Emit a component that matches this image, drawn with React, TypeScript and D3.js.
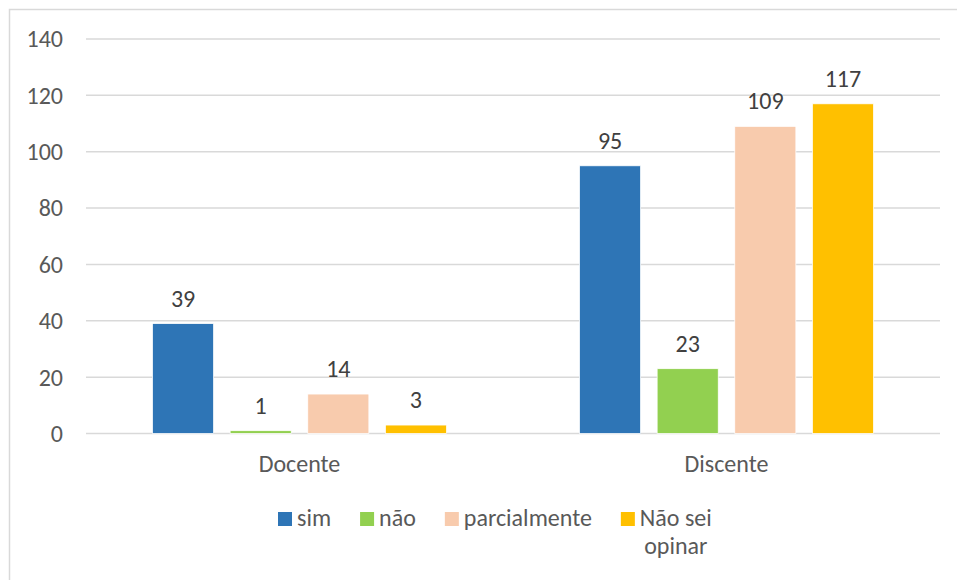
import React, { useEffect, useRef } from 'react';
import * as d3 from 'd3';

const categories = ['Docente', 'Discente'];
const seriesNames = ['sim', 'não', 'parcialmente', 'Não sei opinar'];
const seriesColors = ['#2E75B6', '#92D050', '#F8CBAD', '#FFC000'];
const simValues = [39, 95];
const naoValues = [1, 23];
const parcialValues = [14, 109];
const naoSeiValues = [3, 117];
const yTicks = [0, 20, 40, 60, 80, 100, 120, 140];

const FONT = 'Calibri, Carlito, Lato, sans-serif';
const FS = 24;

export default function App() {
  const ref = useRef<SVGSVGElement | null>(null);

  useEffect(() => {
    if (!ref.current) return;
    const svg = d3.select(ref.current);
    svg.selectAll('*').remove();

    const width = 957;
    const height = 580;
    const margin = { top: 39, right: 17, bottom: 146.5, left: 86 };
    const values = [simValues, naoValues, parcialValues, naoSeiValues];

    // chart area frame (only left/top visible in the crop)
    svg.append('rect')
      .attr('x', 9.5)
      .attr('y', 9.5)
      .attr('width', width + 20)
      .attr('height', height + 20)
      .attr('fill', '#fff')
      .attr('stroke', '#D9D9D9')
      .attr('stroke-width', 1.5);

    const x0 = d3.scaleBand()
      .domain(categories)
      .range([margin.left, width - margin.right])
      .paddingInner(0)
      .paddingOuter(0);

    const x1 = d3.scaleBand()
      .domain(seriesNames)
      .range([66.5, x0.bandwidth() - 66.5])
      .paddingInner(0.213)
      .paddingOuter(0);

    const y = d3.scaleLinear()
      .domain([0, 140])
      .range([height - margin.bottom, margin.top]);

    // gridlines
    svg.append('g')
      .selectAll('line')
      .data(yTicks)
      .join('line')
      .attr('x1', margin.left)
      .attr('x2', width - margin.right)
      .attr('y1', (d) => y(d))
      .attr('y2', (d) => y(d))
      .attr('stroke', '#D9D9D9')
      .attr('stroke-width', 1.5);

    // y tick labels
    svg.append('g')
      .selectAll('text')
      .data(yTicks)
      .join('text')
      .attr('x', 63)
      .attr('y', (d) => y(d))
      .attr('dy', '0.35em')
      .attr('text-anchor', 'end')
      .attr('font-family', FONT)
      .attr('font-size', FS)
      .attr('fill', '#595959')
      .text((d) => d);

    // bars
    const groups = svg.append('g')
      .selectAll('g')
      .data(categories)
      .join('g')
      .attr('transform', (d) => `translate(${x0(d)},0)`);

    groups.each(function (cat, ci) {
      const g = d3.select(this);
      const rows = seriesNames.map((s, si) => ({ s, si, v: values[si][ci] }));
      g.selectAll('rect')
        .data(rows)
        .join('rect')
        .attr('x', (d) => x1(d.s))
        .attr('y', (d) => y(d.v))
        .attr('width', x1.bandwidth())
        .attr('height', (d) => y(0) - y(d.v))
        .attr('fill', (d) => seriesColors[d.si])
        .attr('stroke', '#fff')
        .attr('stroke-width', 0.75);
      g.selectAll('text')
        .data(rows)
        .join('text')
        .attr('x', (d) => x1(d.s) + x1.bandwidth() / 2)
        .attr('y', (d) => y(d.v) - 17)
        .attr('text-anchor', 'middle')
        .attr('font-family', FONT)
        .attr('font-size', FS)
        .attr('fill', '#404040')
        .text((d) => d.v);
    });

    // category labels
    svg.append('g')
      .selectAll('text')
      .data(categories)
      .join('text')
      .attr('x', (d) => x0(d) + x0.bandwidth() / 2)
      .attr('y', 472)
      .attr('text-anchor', 'middle')
      .attr('font-family', FONT)
      .attr('font-size', FS)
      .attr('fill', '#595959')
      .text((d) => d);

    // legend
    const legend = svg.append('g');
    let lx = 278;
    const ly = 525.5;
    seriesNames.forEach((name, i) => {
      legend.append('rect')
        .attr('x', lx)
        .attr('y', 512)
        .attr('width', 14)
        .attr('height', 14)
        .attr('fill', seriesColors[i]);
      const t = legend.append('text')
        .attr('font-family', FONT)
        .attr('font-size', FS)
        .attr('fill', '#595959');
      if (name === 'Não sei opinar') {
        const first = t.append('tspan').attr('x', lx + 19).attr('y', ly).text('Não sei');
        const w = (first.node() as SVGTSpanElement).getComputedTextLength();
        const cx = lx + 19 + w / 2;
        first.attr('x', cx).attr('text-anchor', 'middle');
        t.append('tspan').attr('x', cx).attr('y', ly + 28.5)
          .attr('text-anchor', 'middle').text('opinar');
        lx += 19 + w + 29;
      } else {
        t.attr('x', lx + 19).attr('y', ly).text(name);
        const w = (t.node() as SVGTextElement).getComputedTextLength();
        lx += 19 + w + 29;
      }
    });
  }, []);

  return (
    <svg
      ref={ref}
      width={957}
      height={580}
      style={{ position: 'absolute', left: 0, top: 0, background: '#fff' }}
    />
  );
}
